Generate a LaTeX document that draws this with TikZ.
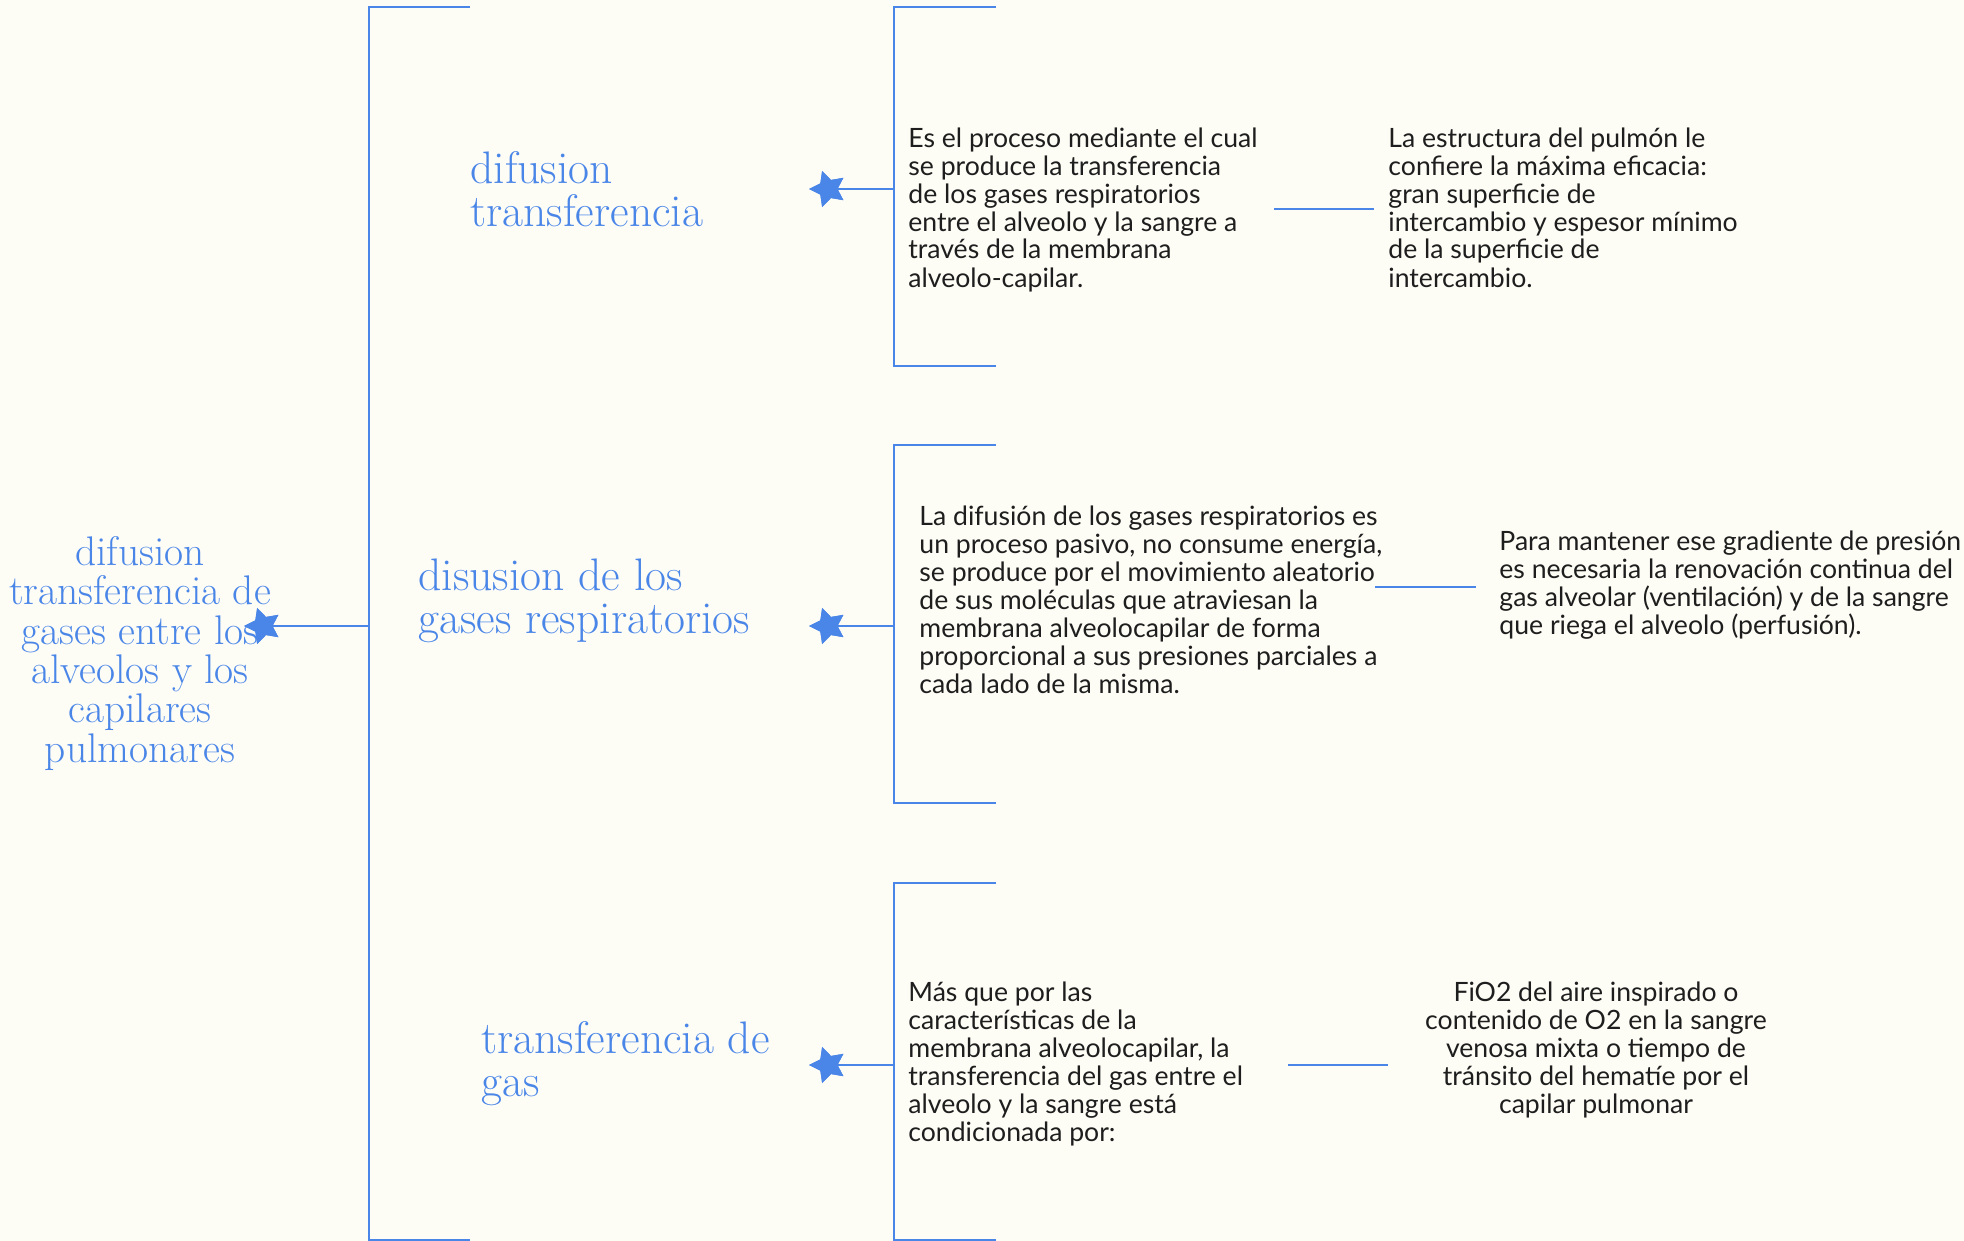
\documentclass[tikz,border=0pt]{standalone}
\usepackage{fontspec}
\newfontfamily\bodyfont{Lato}
\usetikzlibrary{shapes.geometric}
\definecolor{bg}{HTML}{FDFCF5}
\definecolor{blu}{HTML}{4A86E8}
\definecolor{ink}{HTML}{1E1E1E}
\tikzset{
  brk/.style={draw=blu, line width=1.1pt},
  starmark/.style={star, star points=5, star point ratio=2.0, fill=blu, draw=none,
    inner sep=0pt, minimum size=19pt, shape border rotate=90},
  title/.style={text=blu, font=\fontsize{22.8}{21.5}\selectfont, align=left, inner sep=0pt, anchor=base west},
  maintitle/.style={text=blu, font=\fontsize{20.7}{19.65}\selectfont, align=center, inner sep=0pt, anchor=base},
  body/.style={text=ink, font=\bodyfont\fontsize{13.3}{14}\selectfont, align=left, inner sep=0pt, anchor=base west},
}
\begin{document}
\begin{tikzpicture}[x=0.5pt, y=-0.5pt]
\fill[bg] (0,0) rectangle (1964,1241);
\useasboundingbox (0,0) rectangle (1964,1241);

% main bracket
\draw[brk] (470,7) -- (369,7) -- (369,1240) -- (470,1240);
\coordinate (mj) at (369,626);
\node[maintitle] (main) at (140,762) {difusion\\transferencia de\\gases entre los\\alveolos y los\\capilares\\pulmonares};
\node[starmark] (ms) at (263,626) {};
\draw[brk] (mj) -- (ms.center);
\node[starmark] at (263,626) {};

% branch brackets
\draw[brk] (996,7) -- (894,7) -- (894,366) -- (996,366);
\draw[brk] (996,445) -- (894,445) -- (894,803) -- (996,803);
\draw[brk] (996,883) -- (894,883) -- (894,1240) -- (996,1240);
\coordinate (j1) at (894,189);
\coordinate (j2) at (894,626);
\coordinate (j3) at (894,1065);
\node[starmark] (s1) at (828,189) {};
\node[starmark] (s2) at (828,626) {};
\node[starmark] (s3) at (828,1065) {};
\draw[brk] (j1) -- (s1.center);
\draw[brk] (j2) -- (s2.center);
\draw[brk] (j3) -- (s3.center);
\node[starmark] at (828,189) {};
\node[starmark] at (828,626) {};
\node[starmark] at (828,1065) {};

% titles
\node[title] (t1) at (470,227) {difusion\\transferencia};
\node[title] (t2) at (418,633) {disusion de los\\gases respiratorios};
\node[title] (t3) at (481,1096) {transferencia de\\gas};

% body texts
\node[body] (b1) at (908,287) {Es el proceso mediante el cual\\se produce la transferencia\\de los gases respiratorios\\entre el alveolo y la sangre a\\través de la membrana\\alveolo-capilar.};
\node[body] (c1) at (1388,287) {La estructura del pulmón le\\confiere la máxima eficacia:\\gran superficie de\\intercambio y espesor mínimo\\de la superficie de\\intercambio.};
\node[body] (b2) at (919,693) {La difusión de los gases respiratorios es\\un proceso pasivo, no consume energía,\\se produce por el movimiento aleatorio\\de sus moléculas que atraviesan la\\membrana alveolocapilar de forma\\proporcional a sus presiones parciales a\\cada lado de la misma.};
\node[body] (c2) at (1499,634) {Para mantener ese gradiente de presión\\es necesaria la renovación continua del\\gas alveolar (ventilación) y de la sangre\\que riega el alveolo (perfusión).};
\node[body] (b3) at (908,1141) {Más que por las\\características de la\\membrana alveolocapilar, la\\transferencia del gas entre el\\alveolo y la sangre está\\condicionada por:};
\node[body, align=center, anchor=base] (c3) at (1596,1113) {FiO2 del aire inspirado o\\contenido de O2 en la sangre\\venosa mixta o tiempo de\\tránsito del hematíe por el\\capilar pulmonar};

% second-level connectors
\coordinate (k1a) at (1274,209); \coordinate (k1b) at (1374,209);
\coordinate (k2a) at (1375,587); \coordinate (k2b) at (1476,587);
\coordinate (k3a) at (1288,1065); \coordinate (k3b) at (1388,1065);
\draw[brk] (k1a) -- (k1b);
\draw[brk] (k2a) -- (k2b);
\draw[brk] (k3a) -- (k3b);
\end{tikzpicture}
\end{document}
